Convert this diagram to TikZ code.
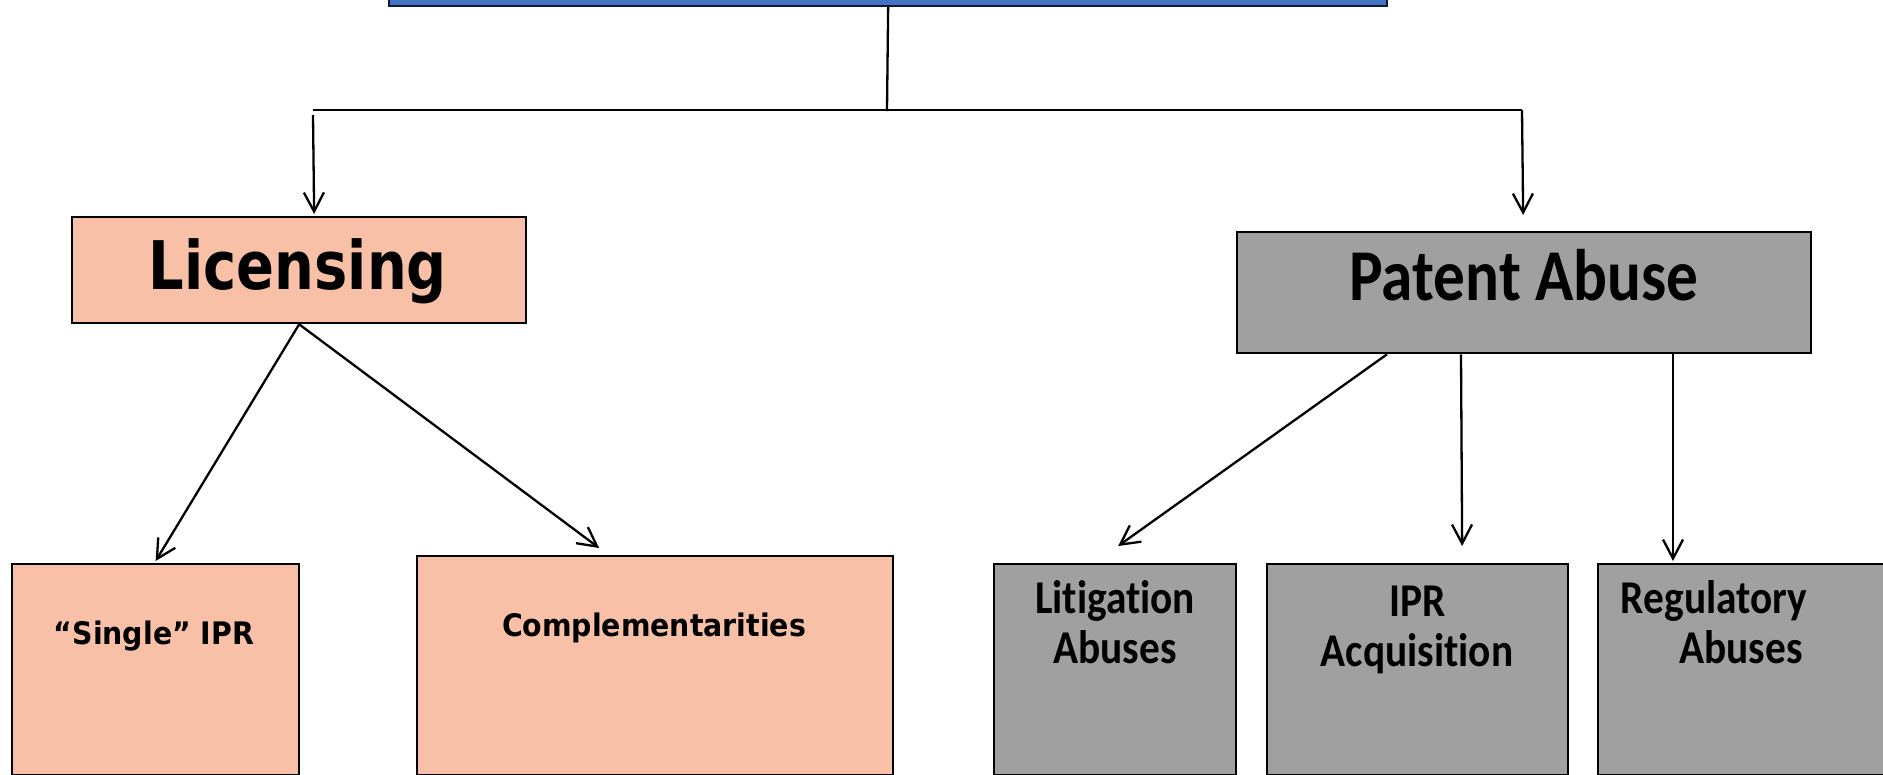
\documentclass[tikz,border=0pt]{standalone}
\usepackage{fontspec}
\usepackage{graphicx}
\usetikzlibrary{arrows.meta,calc}

% Fonts: a Verdana/Tahoma-like face and a Calibri-metric face
\newfontfamily\vfont{DejaVu Sans}
\newfontfamily\cfont{Carlito}[Ligatures=NoCommon]

\definecolor{salmon}{RGB}{247,192,167}
\definecolor{greybox}{RGB}{160,160,160}
\definecolor{topblue}{RGB}{68,114,196}
\definecolor{topedge}{RGB}{16,24,60}

% horizontally condensed text of a given width
\newcommand\fitto[2]{\resizebox{#1}{\height}{#2}}
\newcommand\narrow[1]{\scalebox{0.88}[1]{#1}}

\begin{document}
\begin{tikzpicture}[x=1pt,y=-1pt,
  box/.style={draw=black,line width=2.3pt,inner sep=0pt,anchor=north west},
  pinkbox/.style={box,fill=salmon},
  greyboxst/.style={box,fill=greybox},
  label/.style={inner sep=0pt,anchor=base,text=black},
  trunk/.style={line width=2.3pt,line cap=rect},
  conn/.style={line width=2.3pt,-{Straight Barb[length=19pt,width=20pt]}}
]
\useasboundingbox (0,0) rectangle (1883,775);

% ---- boxes ----
\node[box,fill=topblue,draw=topedge,minimum width=998pt,minimum height=65pt] (top) at (388,-60) {};
\node[pinkbox,minimum width=454pt,minimum height=106pt] (lic) at (71,216) {};
\node[greyboxst,minimum width=574pt,minimum height=121pt] (pa) at (1236,231) {};
\node[pinkbox,minimum width=287pt,minimum height=211pt] (single) at (11,563) {};
\node[pinkbox,minimum width=476pt,minimum height=219pt] (comp) at (416,555) {};
\node[greyboxst,minimum width=242pt,minimum height=211pt] (lit) at (993,563) {};
\node[greyboxst,minimum width=301pt,minimum height=211pt] (ipr) at (1266,563) {};
\node[greyboxst,minimum width=320pt,minimum height=211pt] (reg) at (1597,563) {};

% ---- labels ----
\node[label] (lictxt) at (298,290) {\fitto{298pt}{\vfont\bfseries\fontsize{67}{67}\selectfont Licensing}};
\node[label] (patxt) at (1524,301) {\fitto{349pt}{\cfont\bfseries\fontsize{73}{73}\selectfont Patent Abuse}};
\node[label] (singletxt) at (154,644) {\fitto{200pt}{\vfont\bfseries\fontsize{31}{31}\selectfont “Single” IPR}};
\node[label] (comptxt) at (654,636) {\fitto{304pt}{\vfont\bfseries\fontsize{31}{31}\selectfont Complementarities}};

\node[label] (littxt1) at (1115,613) {\narrow{\cfont\bfseries\fontsize{47}{47}\selectfont Litigation}};
\node[label] (littxt2) at (1115,663) {\narrow{\cfont\bfseries\fontsize{47}{47}\selectfont Abuses}};
\node[label] (iprtxt1) at (1418,616) {\narrow{\cfont\bfseries\fontsize{47}{47}\selectfont IPR}};
\node[label] (iprtxt2) at (1417,666) {\narrow{\cfont\bfseries\fontsize{47}{47}\selectfont Acquisition}};
\node[label] (regtxt1) at (1714,613) {\narrow{\cfont\bfseries\fontsize{47}{47}\selectfont Regulatory}};
\node[label] (regtxt2) at (1741,663) {\narrow{\cfont\bfseries\fontsize{47}{47}\selectfont Abuses}};

% ---- junction points of the top branch ----
\coordinate (jm) at (887,110);
\coordinate (jl) at (313,110);
\coordinate (jr) at (1522,110);
\coordinate (jldrop) at (313,115);

% ---- connectors ----
\draw[trunk] (top.south) -- (jm);
\draw[trunk,line cap=butt] (jl) -- (jr);
\draw[conn] (jldrop) -- ([xshift=15pt,yshift=2pt]lic.north);
\draw[conn] (jr) -- ([xshift=-1pt,yshift=16pt]pa.north);

\draw[conn] (lic.south) -- ([yshift=2pt]single.north);
\draw[conn] (lic.south) -- ([xshift=-56pt,yshift=7pt]comp.north);

\draw[conn] ([xshift=151pt]pa.south west) -- ([xshift=3pt,yshift=17pt]lit.north);
\draw[conn] ([xshift=225pt]pa.south west) -- ([xshift=44.5pt,yshift=17pt]ipr.north);
\draw[conn] ([xshift=437pt]pa.south west) -- ([xshift=76pt,yshift=2pt]reg.north west);
\end{tikzpicture}
\end{document}
